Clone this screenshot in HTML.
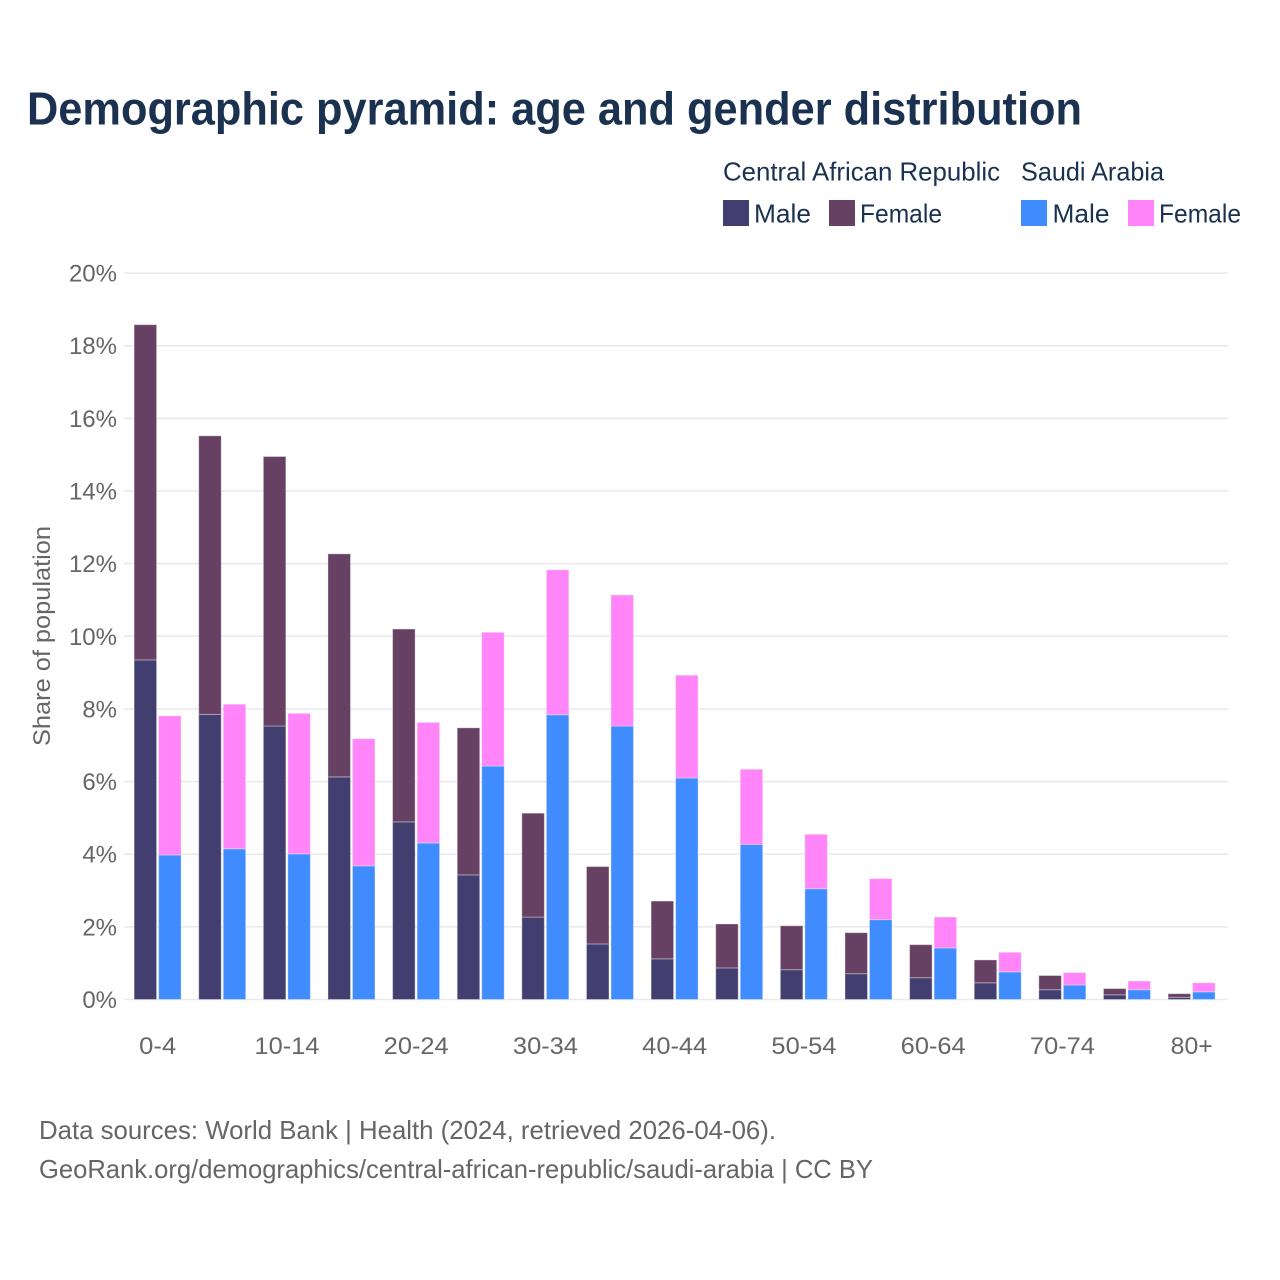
<!DOCTYPE html>
<html lang="en">
<head>
<meta charset="utf-8">
<title>Demographic pyramid: age and gender distribution</title>
<style>
html,body{margin:0;padding:0;background:#fff;width:1280px;height:1280px;overflow:hidden}
svg{display:block;font-family:"Liberation Sans",sans-serif}
</style>
</head>
<body>
<svg id="chart" width="1280" height="1280" viewBox="0 0 1280 1280" xmlns="http://www.w3.org/2000/svg">
  <rect width="1280" height="1280" fill="#fff"/>
  <text x="27" y="124.5" font-size="46" font-weight="700" fill="#1a3150" textLength="1055" lengthAdjust="spacingAndGlyphs">Demographic pyramid: age and gender distribution</text>

  <g font-size="26" fill="#1a3150">
    <text x="723" y="180.5" textLength="277" lengthAdjust="spacingAndGlyphs">Central African Republic</text>
    <text x="1021" y="180.5" textLength="143" lengthAdjust="spacingAndGlyphs">Saudi Arabia</text>
    <g>
      <rect x="723" y="200" width="26" height="26" fill="#423f70"/>
      <text x="754" y="222.5" textLength="57" lengthAdjust="spacingAndGlyphs">Male</text>
    </g>
    <g>
      <rect x="829" y="200" width="26" height="26" fill="#674163"/>
      <text x="860" y="222.5" textLength="82" lengthAdjust="spacingAndGlyphs">Female</text>
    </g>
    <g>
      <rect x="1021" y="200" width="26" height="26" fill="#408cff"/>
      <text x="1052.5" y="222.5" textLength="57" lengthAdjust="spacingAndGlyphs">Male</text>
    </g>
    <g>
      <rect x="1128" y="200" width="26" height="26" fill="#ff85f9"/>
      <text x="1159" y="222.5" textLength="82" lengthAdjust="spacingAndGlyphs">Female</text>
    </g>
  </g>

  <g id="grid"></g>
  <g id="yticks"></g>
  <g id="bars"></g>
  <g id="xticks"></g>

  <text transform="translate(50,636) rotate(-90)" text-anchor="middle" font-size="24" fill="#666" textLength="220" lengthAdjust="spacingAndGlyphs">Share of population</text>

  <text x="39" y="1139" font-size="26" fill="#666" textLength="737" lengthAdjust="spacingAndGlyphs">Data sources: World Bank | Health (2024, retrieved 2026-04-06).</text>
  <text x="39" y="1178" font-size="26" fill="#666" textLength="834" lengthAdjust="spacingAndGlyphs">GeoRank.org/demographics/central-african-republic/saudi-arabia | CC BY</text>
</svg>
<script>
var categories = ['0-4','5-9','10-14','15-19','20-24','25-29','30-34','35-39','40-44','45-49','50-54','55-59','60-64','65-69','70-74','75-79','80+'];
var carMale = [9.35,7.85,7.53,6.13,4.89,3.43,2.27,1.53,1.12,0.87,0.82,0.71,0.60,0.46,0.27,0.13,0.06];
var carFemale = [9.23,7.67,7.42,6.14,5.31,4.05,2.86,2.13,1.59,1.21,1.21,1.13,0.91,0.63,0.39,0.17,0.10];
var saudiMale = [3.98,4.15,4.01,3.68,4.31,6.43,7.84,7.53,6.10,4.27,3.05,2.20,1.42,0.76,0.40,0.27,0.21];
var saudiFemale = [3.83,3.98,3.87,3.50,3.32,3.68,3.99,3.61,2.83,2.07,1.50,1.13,0.85,0.54,0.34,0.24,0.25];
var yTicks = [0,2,4,6,8,10,12,14,16,18,20];

var NS = 'http://www.w3.org/2000/svg';
var Y0 = 999.5, PX_PER_PCT = 36.32;
var X0 = 157.7, STEP = 64.625, BAR_W = 22.5, GAP = 1.6;
var PLOT_LEFT = 124, PLOT_RIGHT = 1228;

function yScale(v){ return Y0 - v * PX_PER_PCT; }
function xScale(i){ return X0 + i * STEP; }
function make(tag, attrs, parent){
  var el = document.createElementNS(NS, tag);
  for (var k in attrs) el.setAttribute(k, attrs[k]);
  parent.appendChild(el);
  return el;
}
function labelWidth(s){
  var w = 0;
  for (var i = 0; i < s.length; i++) {
    w += s.charAt(i) === '-' ? 9 : 14;
  }
  return w;
}

var gridG = document.getElementById('grid');
var yG = document.getElementById('yticks');
var xG = document.getElementById('xticks');
var barG = document.getElementById('bars');

yTicks.forEach(function(t){
  var line = make('line', {x1:PLOT_LEFT, x2:PLOT_RIGHT, y1:yScale(t), y2:yScale(t), stroke:'#e9e9e9', 'stroke-width':1.5}, gridG);
  
  
  var txt = make('text', {x:117, y:yScale(t)+8.5, 'text-anchor':'end', 'font-size':24, fill:'#666'}, yG);
  txt.textContent = t + '%';
  
  
});

function stackedBar(i, left, lower, upper, lowerColor, upperColor, group){
  var yLower = yScale(lower);
  var yUpper = yScale(lower + upper);
  var a = make('rect', {x:left, y:yLower, width:BAR_W, height:Y0-yLower, fill:lowerColor, stroke:'#fff', 'stroke-opacity':0.35, 'stroke-width':1}, barG);
  
  
  var b = make('rect', {x:left, y:yUpper, width:BAR_W, height:yLower-yUpper, fill:upperColor, stroke:'#fff', 'stroke-opacity':0.35, 'stroke-width':1}, barG);
  
  
}

categories.forEach(function(cat, i){
  var c = xScale(i);
  stackedBar(i, c - BAR_W - GAP/2 - 0.3, carMale[i], carFemale[i], '#423f70', '#674163', 'car');
  stackedBar(i, c + GAP/2 + 0.1, saudiMale[i], saudiFemale[i], '#408cff', '#ff85f9', 'saudi');
  if (i % 2 === 0) {
    var txt = make('text', {x:c, y:1054, 'text-anchor':'middle', 'font-size':24, fill:'#666', textLength:labelWidth(cat), lengthAdjust:'spacingAndGlyphs'}, xG);
    txt.textContent = cat;
    
    
  }
});
</script>
</body>
</html>
